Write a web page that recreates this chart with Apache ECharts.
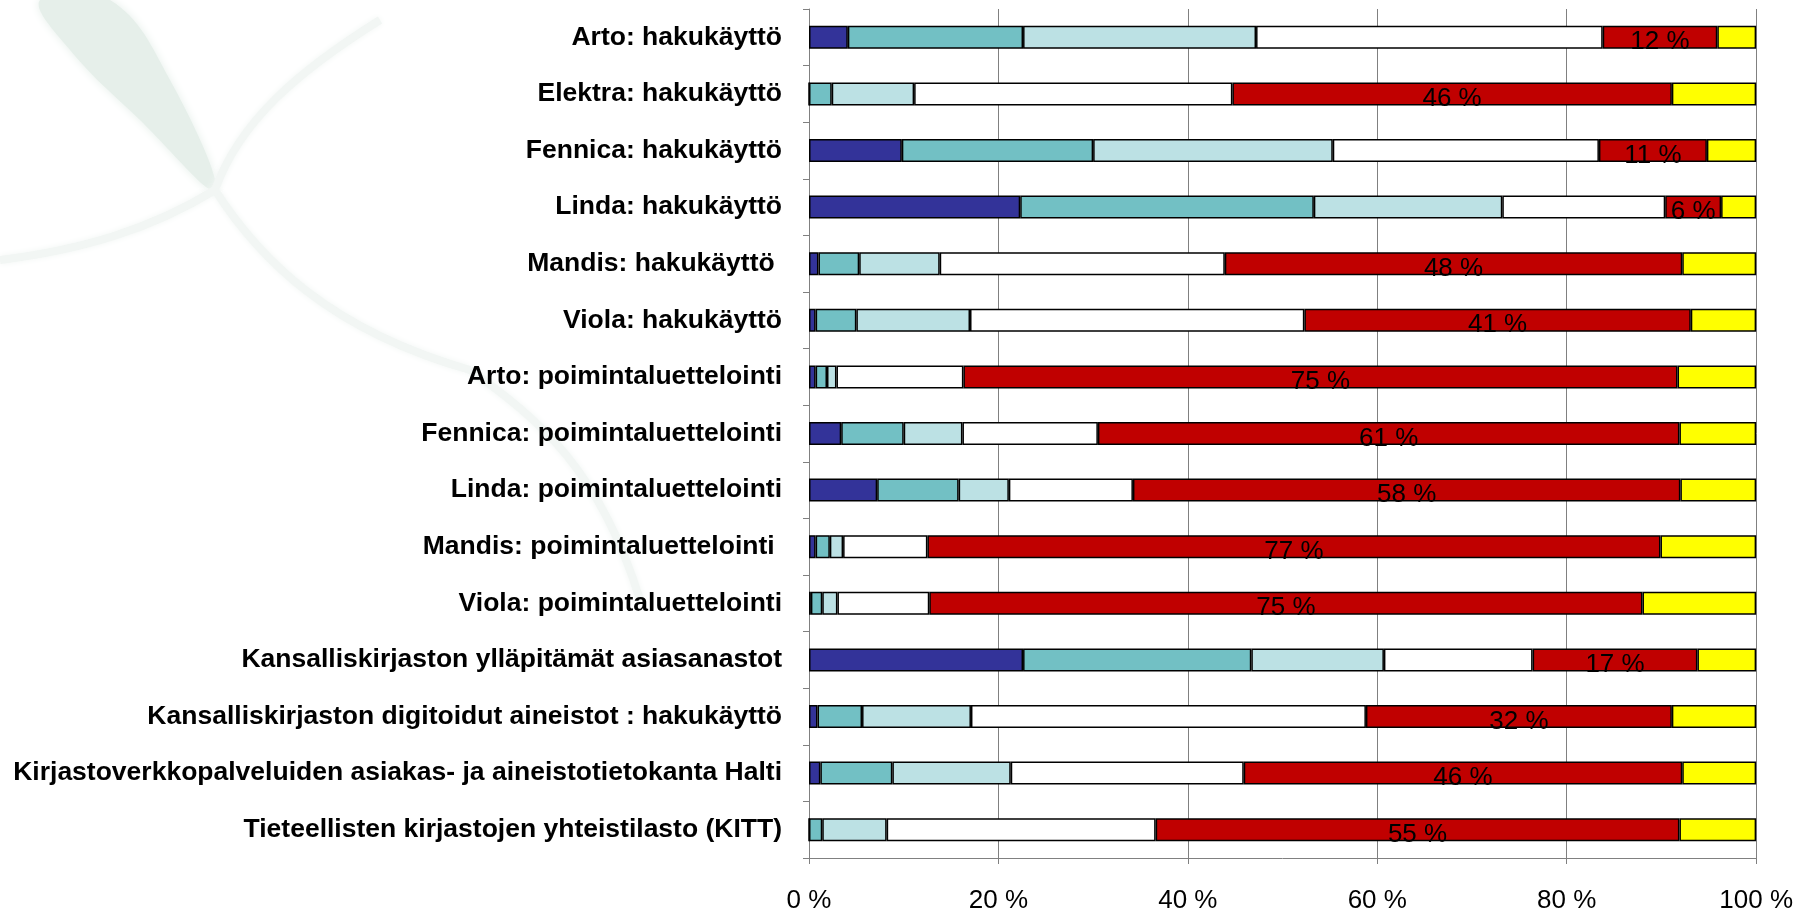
<!DOCTYPE html>
<html>
<head>
<meta charset="utf-8">
<script src="https://cdn.jsdelivr.net/npm/echarts@6/dist/echarts.min.js"></script>
<style>
  html, body { margin: 0; padding: 0; background: #fff; }
  #chart { width: 1796px; height: 914px; }
</style>
</head>
<body>
<div id="chart"></div>
<script>
// categories, top to bottom
const categories = [
  'Arto: hakukäyttö',
  'Elektra: hakukäyttö',
  'Fennica: hakukäyttö',
  'Linda: hakukäyttö',
  'Mandis: hakukäyttö ',
  'Viola: hakukäyttö',
  'Arto: poimintaluettelointi',
  'Fennica: poimintaluettelointi',
  'Linda: poimintaluettelointi',
  'Mandis: poimintaluettelointi ',
  'Viola: poimintaluettelointi',
  'Kansalliskirjaston ylläpitämät asiasanastot',
  'Kansalliskirjaston digitoidut aineistot : hakukäyttö',
  'Kirjastoverkkopalveluiden asiakas- ja aineistotietokanta Halti',
  'Tieteellisten kirjastojen yhteistilasto (KITT)'
]

// shares in %, one array per stacked segment (left to right)
const seg1 = [4.1, 0, 9.8, 22.3, 1.0, 0.7, 0.7, 3.4, 7.2, 0.7, 0.2, 22.6, 0.9, 1.2, 0]
const seg2 = [18.5, 2.4, 20.2, 31.0, 4.3, 4.3, 1.2, 6.6, 8.6, 1.5, 1.2, 24.1, 4.7, 7.6, 1.4]
const seg3 = [24.6, 8.7, 25.3, 19.9, 8.5, 12.0, 1.0, 6.2, 5.3, 1.4, 1.6, 14.0, 11.5, 12.5, 6.8]
const seg4 = [36.6, 33.6, 28.1, 17.2, 30.1, 35.3, 13.4, 14.3, 13.1, 8.9, 9.7, 15.7, 41.7, 24.6, 28.4]
const seg5 = [12.1, 46.4, 11.4, 5.9, 48.3, 40.8, 75.4, 61.4, 57.8, 77.4, 75.3, 17.4, 32.3, 46.3, 55.3]
const seg6 = [4.1, 8.9, 5.2, 3.7, 7.8, 6.9, 8.3, 8.1, 8.0, 10.1, 12.0, 6.2, 8.9, 7.8, 8.1]

const xTicks = [0, 20, 40, 60, 80, 100]

const segments = [seg1, seg2, seg3, seg4, seg5, seg6]
const colors = ['#333399', '#72C0C4', '#BCE1E4', '#FFFFFF', '#C00000', '#FFFF00']
const font = 'Liberation Sans, Arial, sans-serif'

const chart = echarts.init(document.getElementById('chart'))

const series = segments.map((data, i) => ({
  type: 'bar',
  stack: 'total',
  data: data,
  barWidth: 23,
  itemStyle: { color: colors[i], borderColor: '#000', borderWidth: 1.5 },
  label: i === 4 ? {
    show: true,
    position: 'inside',
    offset: [0, 5],
    color: '#000',
    fontFamily: font,
    fontSize: 26,
    formatter: p => Math.round(p.value) + ' %'
  } : { show: false },
  emphasis: { disabled: true }
}))

// faint branch strokes of the slide background
const twig = (x1, y1, cx1, cy1, cx2, cy2, x2, y2) => ({
  type: 'bezierCurve', z: -10, silent: true,
  shape: { x1, y1, cpx1: cx1, cpy1: cy1, cpx2: cx2, cpy2: cy2, x2, y2 },
  style: { stroke: '#f2f6f4', lineWidth: 8, fill: null, shadowBlur: 6, shadowColor: '#f2f6f4' }
})

chart.setOption({
  animation: false,
  graphic: [
    {
      type: 'polygon', z: -10, silent: true,
      shape: { points: [[40, 0], [110, 0], [170, 80], [215, 190], [140, 120], [70, 50]], smooth: 0.4 },
      style: { fill: '#e6efea', shadowBlur: 10, shadowColor: '#e6efea' }
    },
    twig(215, 190, 260, 260, 330, 330, 470, 370),
    twig(215, 190, 240, 120, 300, 70, 380, 20),
    twig(215, 190, 150, 230, 80, 250, 0, 260),
    twig(470, 370, 540, 420, 600, 470, 640, 600)
  ],
  grid: { left: 809, right: 38, top: 9, bottom: 53 },
  xAxis: {
    type: 'value',
    min: xTicks[0],
    max: xTicks[xTicks.length - 1],
    interval: 20,
    axisLine: { show: true, lineStyle: { color: '#808080', width: 1 } },
    axisTick: { show: true, length: 6, lineStyle: { color: '#808080' } },
    splitLine: { show: true, lineStyle: { color: '#808080', width: 1 } },
    axisLabel: {
      margin: 30,
      color: '#000',
      fontFamily: font,
      fontSize: 26,
      formatter: v => v + ' %'
    }
  },
  yAxis: {
    type: 'category',
    data: categories,
    inverse: true,
    axisLine: { show: true, lineStyle: { color: '#808080', width: 1 } },
    axisTick: { show: true, length: 6, lineStyle: { color: '#808080' } },
    axisLabel: {
      margin: 27,
      color: '#000',
      fontWeight: 'bold',
      fontFamily: font,
      fontSize: 26.5
    }
  },
  series: series
})
</script>
</body>
</html>
